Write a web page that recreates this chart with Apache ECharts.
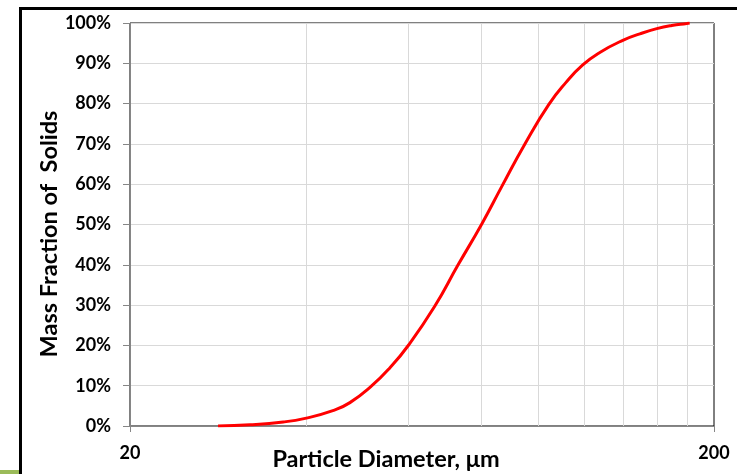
<!DOCTYPE html>
<html>
<head>
<meta charset="utf-8">
<script src="https://cdn.jsdelivr.net/npm/echarts@6/dist/echarts.min.js"></script>
<style>
  html, body { margin: 0; padding: 0; background: #ffffff; }
  #chart { width: 737px; height: 474px; }
</style>
</head>
<body>
<div id="chart"></div>
<script>
// Cumulative mass fraction of solids vs. particle diameter (log scale)
const diameters = [28.3, 32.1, 36.6, 39.9, 44.5, 47.6, 51.9, 55.7, 60.0, 66.5, 72.8, 80.1,
                   86.6, 94.9, 104.3, 111.5, 119.2, 127.5, 139.6, 149.3, 159.6, 169.3, 179.6, 181.7];
const massFraction = [0, 0.3, 1.0, 1.9, 3.8, 5.8, 10.0, 14.4, 20.1, 29.7, 39.8, 50.2,
                      59.4, 70.0, 79.8, 85.2, 89.6, 92.7, 95.7, 97.3, 98.6, 99.4, 99.9, 100];

// Axis settings
const xMin = 20, xMax = 200;
const xLabelValues = [20, 200];
const xGridValues = [40, 60, 80, 100, 120, 140, 160, 180];
const yMin = 0, yMax = 100, yStep = 10;

const xAxisTitle = 'Particle Diameter, \u03bcm';
const yAxisTitle = 'Mass Fraction of  Solids';

const FONT = 'Lato, "Open Sans", sans-serif';
const AXIS_GRAY = '#868686';
const GRID_GRAY = '#d9d9d9';

const chart = echarts.init(document.getElementById('chart'), null, { renderer: 'canvas' });

chart.setOption({
  animation: false,
  backgroundColor: '#ffffff',
  grid: {
    left: 130, right: 23, top: 23, bottom: 48,
    show: true, borderColor: '#000000', borderWidth: 1, backgroundColor: 'transparent'
  },
  xAxis: {
    type: 'log',
    logBase: 10,
    min: xMin,
    max: xMax,
    axisLine: { show: true, lineStyle: { color: AXIS_GRAY, width: 1 } },
    axisTick: { show: true, customValues: xLabelValues, length: 6, lineStyle: { color: AXIS_GRAY } },
    axisLabel: {
      customValues: xLabelValues,
      formatter: v => String(Math.round(v)),
      margin: 18,
      color: '#000000',
      fontFamily: FONT,
      fontWeight: 'bold',
      fontSize: 18
    },
    splitLine: { show: false },
    minorTick: { show: false },
    minorSplitLine: { show: false }
  },
  yAxis: {
    type: 'value',
    min: yMin,
    max: yMax,
    interval: yStep,
    axisLine: { show: true, lineStyle: { color: AXIS_GRAY, width: 1 } },
    axisTick: { show: true, length: 7, lineStyle: { color: AXIS_GRAY } },
    axisLabel: {
      formatter: '{value}%',
      margin: 19,
      color: '#000000',
      fontFamily: FONT,
      fontWeight: 'bold',
      fontSize: 18
    },
    splitLine: { show: true, lineStyle: { color: GRID_GRAY, width: 1 } }
  },
  series: [{
    type: 'line',
    data: diameters.map((d, i) => [d, massFraction[i]]),
    smooth: 0.5,
    showSymbol: false,
    symbol: 'none',
    z: 3,
    lineStyle: { color: '#ff0000', width: 3 },
    markLine: {
      silent: true,
      z: 1,
      symbol: ['none', 'none'],
      label: { show: false },
      lineStyle: { color: GRID_GRAY, width: 1, type: 'solid' },
      data: xGridValues.map(v => ({ xAxis: v }))
    }
  }],
  graphic: [
    // frame lines along the top and left edges
    { type: 'rect', shape: { x: 19, y: 7, width: 718, height: 3 }, style: { fill: '#000000' } },
    { type: 'rect', shape: { x: 19, y: 7, width: 3, height: 467 }, style: { fill: '#000000' } },
    { type: 'rect', shape: { x: 0, y: 470, width: 19, height: 4 }, style: { fill: '#9bbb59' } },
    {
      type: 'text', x: 386, y: 459,
      style: {
        text: xAxisTitle, fill: '#000000',
        font: 'bold 23.5px ' + FONT,
        textAlign: 'center', textVerticalAlign: 'middle'
      }
    },
    {
      type: 'text', x: 49, y: 234, rotation: Math.PI / 2,
      style: {
        text: yAxisTitle, fill: '#000000',
        font: 'bold 23.5px ' + FONT,
        textAlign: 'center', textVerticalAlign: 'middle'
      }
    }
  ]
});
</script>
</body>
</html>
